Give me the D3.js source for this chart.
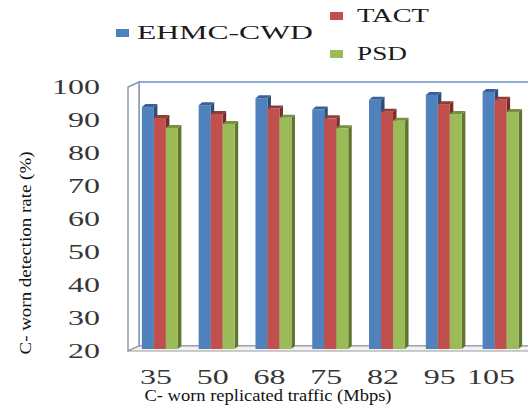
<!DOCTYPE html>
<html>
<head>
<meta charset="utf-8">
<script src="https://d3js.org/d3.v7.min.js"></script>
<style>
  body { margin: 0; background: #fff; }
  svg { display: block; }
  .tick-label { font-family: "Liberation Serif", "Times New Roman", serif; font-size: 20px; fill: #363636; }
  .axis-title { font-family: "Liberation Serif", "Times New Roman", serif; font-size: 17px; fill: #111; }
  .legend-label { font-family: "Liberation Serif", "Times New Roman", serif; font-size: 18.5px; fill: #1a1a1a; }
</style>
</head>
<body>
<script>
//chart data
var categories = ["35", "50", "68", "75", "82", "95", "105"];
var seriesNames = ["EHMC-CWD", "TACT", "PSD"];
var ehmcValues = [93.3, 93.9, 96.0, 92.6, 95.5, 97.0, 97.9];
var tactValues = [90.0, 91.2, 92.9, 89.9, 91.9, 94.2, 95.5];
var psdValues  = [87.0, 88.2, 90.1, 86.9, 89.2, 91.2, 91.8];
var yTicks = [20, 30, 40, 50, 60, 70, 80, 90, 100];

(function(){

    var width = 528,
        height = 418;

    //face colours for each series: front, side, top
    var colors = [
        {front: "#4f81bd", side: "#2c4d75", top: "#3a6296"},
        {front: "#c0504d", side: "#772c2a", top: "#8f3b39"},
        {front: "#9bbb59", side: "#5f7530", top: "#76903f"}
    ];

    window.onload = setChart();

    function setChart(){
        var svg = d3.select("body")
            .append("svg")
            .attr("width", width)
            .attr("height", height);

        //front plane scale (labels), bar scale sits a little deeper
        var yFront = d3.scaleLinear().domain([20, 100]).range([351, 87]);
        var yBar = d3.scaleLinear().domain([20, 100]).range([349, 85]);

        var x0 = d3.scaleBand()
            .domain(categories)
            .range([131.5, 529])
            .paddingInner(0.366)
            .paddingOuter(0.183);

        var x1 = d3.scaleBand()
            .domain(seriesNames)
            .range([0, x0.bandwidth()]);

        drawWalls(svg, yFront);

        var data = [ehmcValues, tactValues, psdValues];

        categories.forEach(function(cat, i){
            seriesNames.forEach(function(name, s){
                drawBar(svg, x0(cat) + x1(name), x1.bandwidth(), yBar(data[s][i]), yBar(20), colors[s]);
            });
        });

        drawAxes(svg, x0, yFront);
        drawLegend(svg);
    };

    function drawWalls(svg, yFront){
        var dx = 11, dy = -5;
        var left = 128, right = 545;
        var top = yFront(100), bottom = yFront(20);

        //back wall
        svg.append("rect")
            .attr("x", left + dx)
            .attr("y", top + dy)
            .attr("width", right - left)
            .attr("height", bottom - top)
            .attr("fill", "#fff")
            .attr("stroke", "#6a93cc")
            .attr("stroke-width", 1.5);

        //side wall
        svg.append("path")
            .attr("d", "M" + left + "," + top + "L" + (left + dx) + "," + (top + dy) +
                "L" + (left + dx) + "," + (bottom + dy) + "L" + left + "," + bottom + "Z")
            .attr("fill", "#fff")
            .attr("stroke", "#8a9bb3")
            .attr("stroke-width", 1.5);

        //floor
        svg.append("path")
            .attr("d", "M" + left + "," + bottom + "L" + (left + dx) + "," + (bottom + dy) +
                "L" + (right + dx) + "," + (bottom + dy) + "L" + right + "," + bottom + "Z")
            .attr("fill", "#f2f2f2")
            .attr("stroke", "#9a9a9a")
            .attr("stroke-width", 1.2);
    };

    function drawBar(svg, x, w, yTop, yBase, c){
        var dx = 3.5, dy = -3;

        //right side face
        svg.append("path")
            .attr("d", "M" + (x + w) + "," + yTop + "L" + (x + w + dx) + "," + (yTop + dy) +
                "L" + (x + w + dx) + "," + (yBase + dy) + "L" + (x + w) + "," + yBase + "Z")
            .attr("fill", c.side);

        //top face
        svg.append("path")
            .attr("d", "M" + x + "," + yTop + "L" + (x + dx) + "," + (yTop + dy) +
                "L" + (x + w + dx) + "," + (yTop + dy) + "L" + (x + w) + "," + yTop + "Z")
            .attr("fill", c.top);

        //front face
        svg.append("rect")
            .attr("x", x)
            .attr("y", yTop)
            .attr("width", w)
            .attr("height", yBase - yTop)
            .attr("fill", c.front);
    };

    function drawAxes(svg, x0, yFront){
        //y tick labels - wide digits, stretched to the picture's widths
        svg.selectAll(".ytick")
            .data(yTicks)
            .enter()
            .append("text")
            .attr("class", "tick-label ytick")
            .attr("x", 100)
            .attr("y", function(d){ return yFront(d) + 7; })
            .attr("text-anchor", "end")
            .attr("textLength", function(d){ return String(d).length * 16; })
            .attr("lengthAdjust", "spacingAndGlyphs")
            .text(function(d){ return d; });

        //x tick labels, kept inside the picture
        svg.selectAll(".xtick")
            .data(categories)
            .enter()
            .append("text")
            .attr("class", "tick-label xtick")
            .attr("x", function(d){
                var w = d.length * 16;
                return Math.min(x0(d) + x0.bandwidth() / 2 - 4, 515 - w / 2);
            })
            .attr("y", 384)
            .attr("text-anchor", "middle")
            .attr("textLength", function(d){ return d.length * 16; })
            .attr("lengthAdjust", "spacingAndGlyphs")
            .text(function(d){ return d; });

        //axis titles
        svg.append("text")
            .attr("class", "axis-title")
            .attr("x", 268)
            .attr("y", 401)
            .attr("text-anchor", "middle")
            .attr("textLength", 247)
            .attr("lengthAdjust", "spacingAndGlyphs")
            .text("C- worn replicated traffic (Mbps)");

        svg.append("text")
            .attr("class", "axis-title")
            .attr("transform", "translate(31,253) rotate(-90)")
            .attr("text-anchor", "middle")
            .attr("textLength", 203)
            .attr("lengthAdjust", "spacingAndGlyphs")
            .text("C- worn detection rate (%)");
    };

    function drawLegend(svg){
        //legend positions copied from the picture layout
        var items = [
            {name: seriesNames[0], color: colors[0].front, sx: 116, sy: 29, tx: 137, ty: 39, len: 176},
            {name: seriesNames[1], color: colors[1].front, sx: 330, sy: 12, tx: 357, ty: 22, len: 72},
            {name: seriesNames[2], color: colors[2].front, sx: 330, sy: 50, tx: 357, ty: 60, len: 50}
        ];

        var g = svg.selectAll(".legend")
            .data(items)
            .enter()
            .append("g")
            .attr("class", "legend");

        g.append("rect")
            .attr("x", function(d){ return d.sx; })
            .attr("y", function(d){ return d.sy; })
            .attr("width", 13)
            .attr("height", 8)
            .attr("fill", function(d){ return d.color; });

        g.append("text")
            .attr("class", "legend-label")
            .attr("x", function(d){ return d.tx; })
            .attr("y", function(d){ return d.ty; })
            .attr("textLength", function(d){ return d.len; })
            .attr("lengthAdjust", "spacingAndGlyphs")
            .text(function(d){ return d.name; });
    };

})();
</script>
</body>
</html>
